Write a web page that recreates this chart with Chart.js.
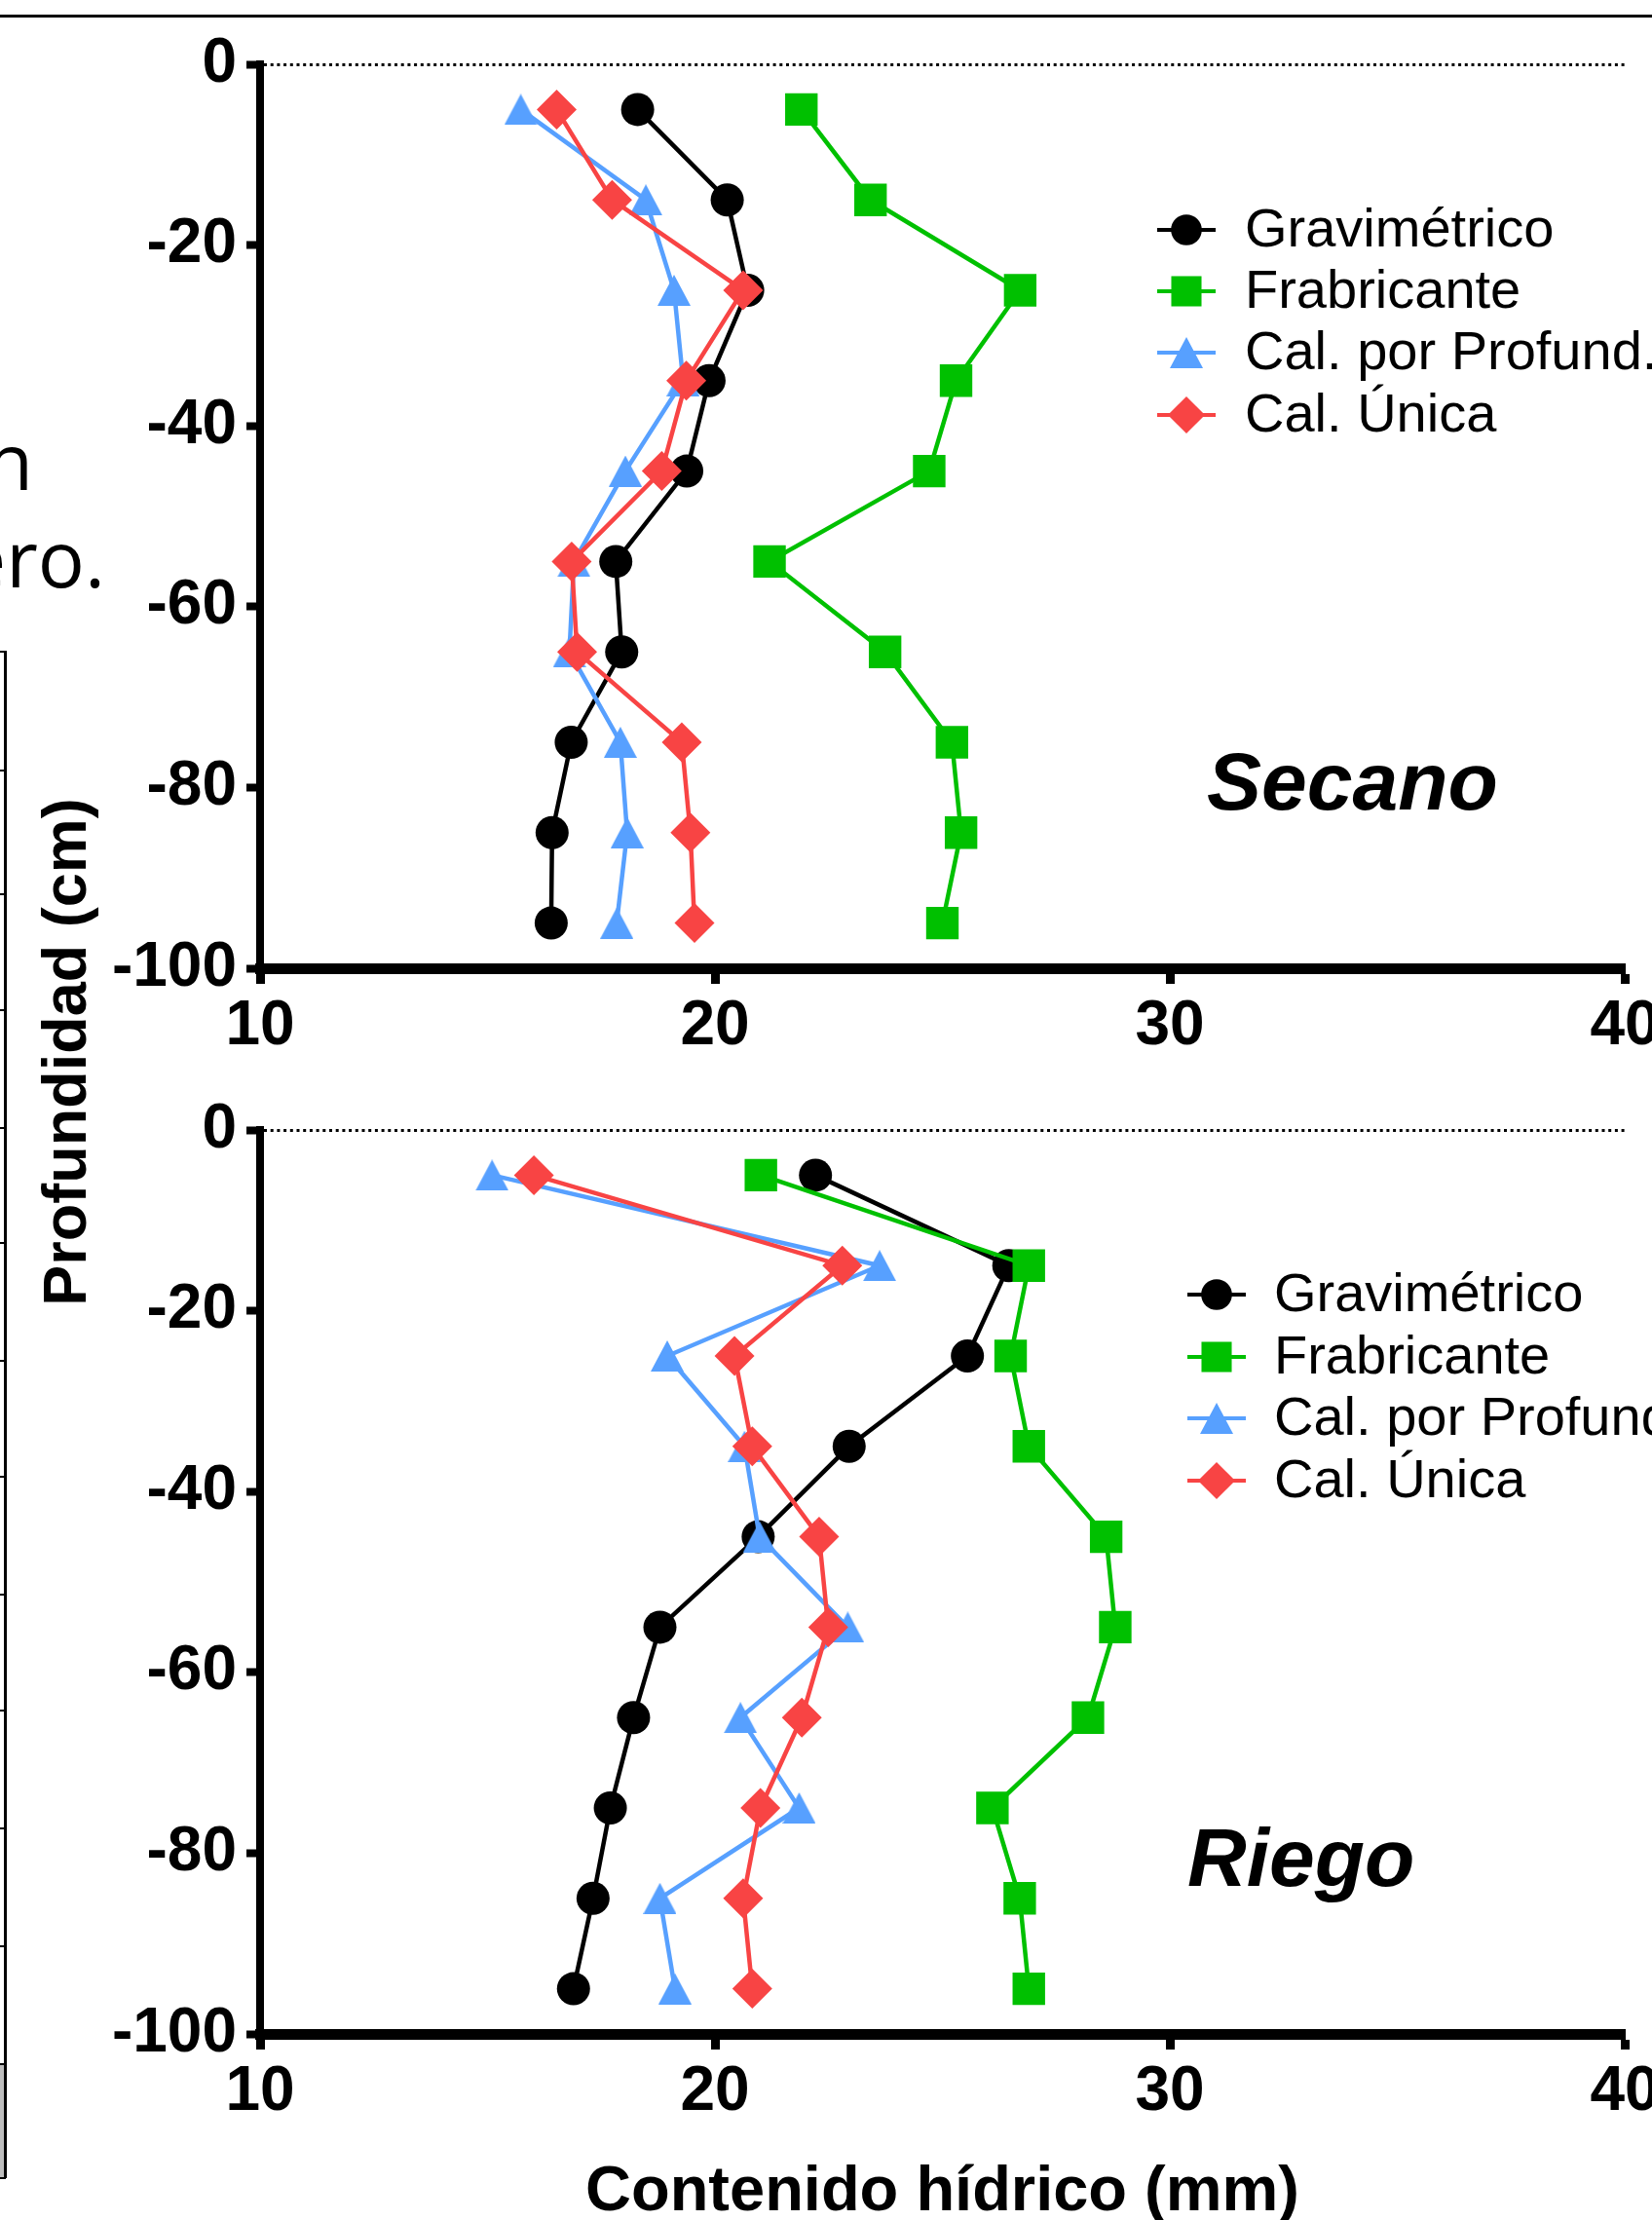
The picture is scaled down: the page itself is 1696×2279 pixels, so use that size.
<!DOCTYPE html>
<html><head><meta charset="utf-8">
<script src="https://cdn.jsdelivr.net/npm/chart.js@4"></script>
<style>
html,body{margin:0;padding:0;background:#fff;overflow:hidden;width:1696px;height:2279px;}
#wrap{position:relative;width:1696px;height:2279px;overflow:hidden;background:#fff;}
canvas{position:absolute;left:0;}
#topline{position:absolute;left:0;top:15px;width:1696px;height:3px;background:#000;}
.frag{position:absolute;font-family:"Open Sans","Liberation Sans",sans-serif;font-size:80px;line-height:80px;white-space:nowrap;text-align:right;color:#000;}
#ytitle{position:absolute;left:66px;top:1080px;transform:translate(-50%,-50%) rotate(-90deg);font:bold 63px "Liberation Sans",Arial,sans-serif;line-height:1;white-space:nowrap;color:#000;}
.bx{position:absolute;background:#000;}
</style></head><body>
<div id="wrap">
<div id="topline"></div>
<div class="frag" style="right:1662px;top:432px;">n</div>
<div class="frag" style="right:1588px;top:532px;">ero.</div>
<div id="leftbox"></div>
<div id="ytitle">Profundidad (cm)</div>
<canvas id="c1" width="1696" height="1090" style="top:0px"></canvas>
<canvas id="c2" width="1696" height="1200" style="top:1090px"></canvas>
</div>
<script>
// ---------------- data ----------------
const depths = [-5, -15, -25, -35, -45, -55, -65, -75, -85, -95];
const seriesNames = ['Gravimétrico', 'Frabricante', 'Cal. por Profund.', 'Cal. Única'];
const xTicks = [10, 20, 30, 40];
const yTicks = [0, -20, -40, -60, -80, -100];

const secanoGrav  = [18.30, 20.27, 20.72, 19.87, 19.38, 17.82, 17.95, 16.84, 16.42, 16.40];
const secanoFabr  = [21.90, 23.42, 26.71, 25.30, 24.71, 21.20, 23.74, 25.21, 25.41, 25.00];
const secanoProf  = [15.73, 18.48, 19.10, 19.30, 18.03, 16.90, 16.80, 17.92, 18.07, 17.84];
const secanoUnica = [16.52, 17.74, 20.62, 19.37, 18.83, 16.85, 16.97, 19.27, 19.46, 19.55];

const riegoGrav  = [22.21, 26.46, 25.55, 22.95, 20.95, 18.79, 18.21, 17.70, 17.32, 16.89];
const riegoFabr  = [21.01, 26.90, 26.50, 26.90, 28.60, 28.80, 28.20, 26.10, 26.70, 26.90];
const riegoProf  = [15.10, 23.62, 18.95, 20.65, 20.98, 22.92, 20.56, 21.85, 18.79, 19.12];
const riegoUnica = [16.02, 22.80, 20.43, 20.82, 22.29, 22.49, 21.91, 21.00, 20.62, 20.82];

// ---------------- styles ----------------
function triangleImage(w, h, color) {
  const c = document.createElement('canvas');
  c.width = w; c.height = h;
  const g = c.getContext('2d');
  g.fillStyle = color;
  g.beginPath(); g.moveTo(w / 2, 0); g.lineTo(w, h); g.lineTo(0, h); g.closePath(); g.fill();
  return c;
}
const styles = [
  {color: '#000000', pointStyle: 'circle',   radius: 17,   order: 4},
  {color: '#00C000', pointStyle: 'rect',     radius: 23.6, order: 3},
  {color: '#57A0FF', pointStyle: 'triangle', radius: 18,   order: 2},
  {color: '#F84444', pointStyle: 'rectRot',  radius: 20.5, order: 1}
];
const triImg = triangleImage(34, 32, styles[2].color);

// left-edge cropped frame
(function(){
  const lb = document.getElementById('leftbox');
  const add = (l,t,w,h,c) => { const d=document.createElement('div'); d.className='bx'; d.style.cssText=`left:${l}px;top:${t}px;width:${w}px;height:${h}px;`+(c?`background:${c};`:''); lb.appendChild(d); };
  add(0, 2118, 4, 118, '#bdbdbd');
  add(4, 668, 2.5, 1568);
  add(0, 668, 6, 2);
  [790, 917, 1036, 1157, 1275, 1396, 1515, 1636, 1755, 1876, 1997, 2118].forEach(y => add(0, y, 5, 2));
  add(0, 2235, 6, 2);
})();

function makeDatasets(vals) {
  return vals.map((arr, i) => ({
    label: seriesNames[i],
    data: arr.map((v, k) => ({x: v, y: depths[k]})),
    showLine: true,
    borderColor: styles[i].color,
    backgroundColor: styles[i].color,
    borderWidth: 4.5,
    tension: 0,
    pointStyle: styles[i].pointStyle === 'triangle' ? triImg : styles[i].pointStyle,
    pointRadius: styles[i].radius,
    pointHoverRadius: styles[i].radius,
    pointBackgroundColor: styles[i].color,
    pointBorderColor: styles[i].color,
    pointBorderWidth: 0,
    order: styles[i].order,
    clip: false
  }));
}

function drawMarker(ctx, style, x, y, r, color) {
  ctx.save();
  ctx.fillStyle = color;
  ctx.beginPath();
  if (style === 'circle') {
    ctx.arc(x, y, r, 0, Math.PI * 2);
  } else if (style === 'rect') {
    const s = r * Math.SQRT1_2;
    ctx.rect(x - s, y - s, 2 * s, 2 * s);
  } else if (style === 'triangle') {
    ctx.moveTo(x, y - 16); ctx.lineTo(x + 17, y + 16); ctx.lineTo(x - 17, y + 16); ctx.closePath();
  } else if (style === 'rectRot') {
    ctx.moveTo(x, y - r); ctx.lineTo(x + r, y); ctx.lineTo(x, y + r); ctx.lineTo(x - r, y); ctx.closePath();
  }
  ctx.fill();
  ctx.restore();
}

const panelPlugin = {
  id: 'panelDecor',
  afterDatasetsDraw(chart, args, opts) {
    const ctx = chart.ctx;
    ctx.save();
    // panel label
    ctx.font = 'italic bold 84px "Liberation Sans", Arial, sans-serif';
    ctx.fillStyle = '#000';
    ctx.textAlign = 'left';
    ctx.textBaseline = 'alphabetic';
    ctx.fillText(opts.label, opts.labelX, opts.labelY);
    // legend
    ctx.font = '56px "Liberation Sans", Arial, sans-serif';
    ctx.textBaseline = 'middle';
    opts.rows.forEach((ry, i) => {
      const st = styles[i];
      ctx.strokeStyle = st.color;
      ctx.lineWidth = 4;
      ctx.beginPath();
      ctx.moveTo(opts.lineX1, ry); ctx.lineTo(opts.lineX2, ry);
      ctx.stroke();
      drawMarker(ctx, st.pointStyle, (opts.lineX1 + opts.lineX2) / 2, ry, st.radius * 0.93, st.color);
      ctx.fillStyle = '#000';
      ctx.fillText(seriesNames[i], opts.textX, ry + 2);
    });
    ctx.restore();
  }
};

function makeOptions(cfg) {
  return {
    responsive: false,
    devicePixelRatio: 1,
    animation: false,
    events: [],
    layout: {padding: cfg.padding},
    plugins: {
      legend: {display: false},
      tooltip: {enabled: false},
      panelDecor: cfg.decor
    },
    scales: {
      x: {
        type: 'linear', position: 'bottom', min: 10, max: 40,
        afterBuildTicks: s => { s.ticks = xTicks.map(v => ({value: v})); },
        afterFit: s => { s.height = cfg.xHeight; s.paddingLeft = 0; s.paddingRight = 0; },
        ticks: {color: '#000', padding: 6, font: {family: '"Liberation Sans", Arial, sans-serif', size: 64, weight: 'bold'}, maxRotation: 0, autoSkip: false},
        grid: {drawOnChartArea: false, drawTicks: true, tickLength: 16, tickWidth: 9, tickColor: '#000', tickBorderDash: [], color: '#000', lineWidth: 1},
        border: {display: true, color: '#000', width: 11},
        title: cfg.xTitle
      },
      y: {
        type: 'linear', position: 'left', min: -100, max: 0,
        afterBuildTicks: s => { s.ticks = yTicks.map(v => ({value: v})); },
        afterFit: s => { s.width = 200; s.paddingTop = 0; s.paddingBottom = 0; },
        ticks: {color: '#000', padding: 10, font: {family: '"Liberation Sans", Arial, sans-serif', size: 64, weight: 'bold'}, autoSkip: false},
        grid: {
          drawOnChartArea: true, drawTicks: true, tickLength: 14, tickWidth: 8, tickColor: '#000', tickBorderDash: [],
          color: c => (c.tick && c.tick.value === 0) ? '#000' : 'rgba(0,0,0,0)',
          lineWidth: 3
        },
        border: {display: true, color: '#000', width: 8, dash: [3, 3.7]}
      }
    }
  };
}

new Chart(document.getElementById('c1'), {
  type: 'scatter',
  data: {datasets: makeDatasets([secanoGrav, secanoFabr, secanoProf, secanoUnica])},
  options: makeOptions({
    padding: {left: 67, right: 28, top: 66, bottom: 6},
    xHeight: 90,
    xTitle: {display: false},
    decor: {label: 'Secano', labelX: 1239, labelY: 831, lineX1: 1188, lineX2: 1248, textX: 1278, rows: [236, 299, 362, 426]}
  }),
  plugins: [panelPlugin]
});

new Chart(document.getElementById('c2'), {
  type: 'scatter',
  data: {datasets: makeDatasets([riegoGrav, riegoFabr, riegoProf, riegoUnica])},
  options: makeOptions({
    padding: {left: 67, right: 28, top: 70, bottom: 0},
    xHeight: 202,
    xTitle: {display: true, text: 'Contenido hídrico (mm)', color: '#000', padding: {top: 0, bottom: 0},
             font: {family: '"Liberation Sans", Arial, sans-serif', size: 65, weight: 'bold', lineHeight: 1.2}},
    decor: {label: 'Riego', labelX: 1219, labelY: 846, lineX1: 1219, lineX2: 1279, textX: 1308, rows: [239, 303, 366, 430]}
  }),
  plugins: [panelPlugin]
});
</script>
</body></html>
